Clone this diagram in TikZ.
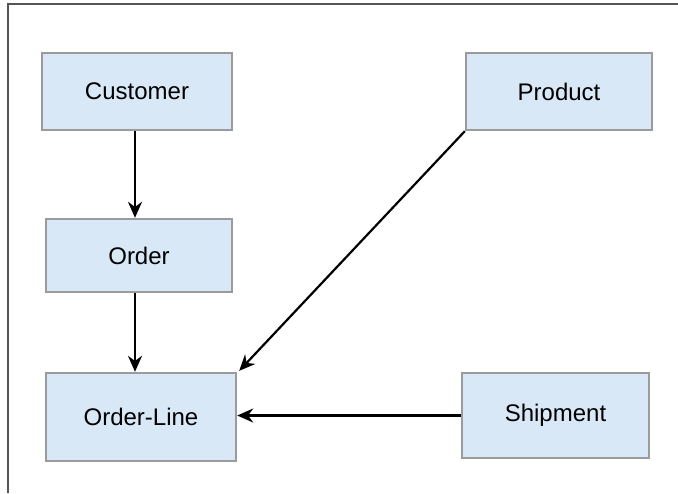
\documentclass[tikz,border=0pt]{standalone}
\usepackage{fontspec}
\setmainfont{Liberation Sans}
\usepackage{xcolor}
\usetikzlibrary{arrows.meta, positioning, calc}
\definecolor{entityblue}{RGB}{217, 232, 246}
\definecolor{entityedge}{RGB}{155, 155, 155}
\definecolor{framegray}{RGB}{85, 85, 85}
\tikzstyle{entity} = [rectangle, minimum width=95pt, minimum height=38.5pt, text centered, draw=entityedge, line width=1.2pt, fill=entityblue, font=\fontsize{12}{14}\selectfont]
\tikzstyle{arrow} = [line width=1.1pt,-{Stealth[length=8pt,width=7pt]}]

\begin{document}
\begin{tikzpicture}[x=0.5pt, y=-0.5pt]
      \useasboundingbox (0,0) rectangle (678,493);
      \draw[framegray, line width=1.1pt] (8,493) -- (8,4) -- (678,4);

      \node[entity] (customer) at (137,91.5) {Customer};
      \node[entity, minimum width=93pt, minimum height=36.5pt] (order) at (139,255.5) {Order};
      \node[entity, minimum height=44pt] (orderline) at (141,417) {Order-Line};
      \node[entity, minimum width=93pt] (product) at (559,91.5) {Product};
      \node[entity, minimum width=93.5pt, minimum height=42.5pt] (shipment) at (555.5,415.5) {Shipment};

      \draw[arrow] (customer.south -| 135,0) -- (order.north -| 135,0);
      \draw[arrow] (order.south -| 135,0) -- (orderline.north -| 135,0);
      \draw[arrow] (product.south west) -- ($(orderline.north east)+(2,-1)$);
      \draw[arrow] (shipment.west) -- (shipment.west -| orderline.east);
    \end{tikzpicture}
\end{document}
